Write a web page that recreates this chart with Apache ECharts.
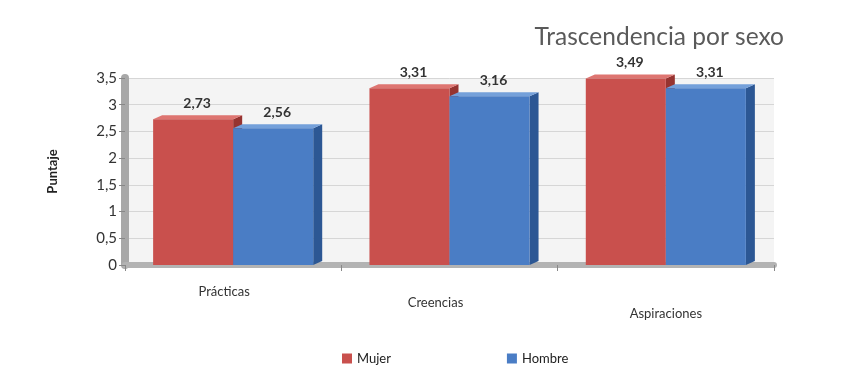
<!DOCTYPE html>
<html><head><meta charset="utf-8">
<script src="https://cdn.jsdelivr.net/npm/echarts@6/dist/echarts.min.js"></script>
<style>html,body{margin:0;padding:0;background:#fff}#c{width:854px;height:390px}</style>
</head><body><div id="c"></div>
<script>
const categories = ['Prácticas', 'Creencias', 'Aspiraciones'];
const mujer = [2.73, 3.31, 3.49];
const hombre = [2.56, 3.16, 3.31];
const yTicks = [0, 0.5, 1, 1.5, 2, 2.5, 3, 3.5];

const palette = {
  Mujer: {front: '#C9504D', top: '#DE7571', side: '#963330'},
  Hombre: {front: '#4A7DC5', top: '#74A0DA', side: '#2C5794'}
};
const fmt = v => String(v).replace('.', ',');

function make3D(name, values, slot) {
  return {
    name: name,
    type: 'custom',
    itemStyle: {color: palette[name].front},
    data: values.map((v, i) => [i, v]),
    encode: {x: 0, y: 1},
    z: slot + 2,
    renderItem: function (params, api) {
      const idx = api.value(0), val = api.value(1);
      const base = api.coord([idx, 0]);
      const top = api.coord([idx, val]);
      const catW = api.size([1, 0])[0];
      const w = catW * 0.37;
      const x0 = base[0] - w + slot * w;
      const x1 = x0 + w;
      const dx = 9, dy = -4;
      const c = palette[name];
      return {
        type: 'group',
        children: [
          {type: 'polygon', shape: {points: [[x1, top[1]], [x1 + dx, top[1] + dy], [x1 + dx, base[1] + dy], [x1, base[1]]]}, style: {fill: c.side}},
          {type: 'polygon', shape: {points: [[x0, top[1]], [x0 + dx, top[1] + dy], [x1 + dx, top[1] + dy], [x1, top[1]]]}, style: {fill: c.top}},
          {type: 'rect', shape: {x: x0, y: top[1], width: w, height: base[1] - top[1]}, style: {fill: c.front}},
          {type: 'text', style: {text: fmt(val), x: (x0 + x1) / 2 + 4, y: top[1] - 9, align: 'center', verticalAlign: 'bottom', font: 'bold 14px Lato, "Open Sans", sans-serif', fill: '#333'}}
        ]
      };
    }
  };
}

const chart = echarts.init(document.getElementById('c'));
chart.setOption({
  animation: false,
  title: {
    text: 'Trascendencia por sexo', right: 65, top: 20,
    textStyle: {fontFamily: 'Lato', fontWeight: 'normal', fontSize: 24.5, color: '#5a5a5a'}
  },
  legend: {
    data: [{name: 'Mujer', icon: 'rect'}, {name: 'Hombre', icon: 'rect'}],
    left: 337, top: 347, itemWidth: 10, itemHeight: 10, itemGap: 116,
    textStyle: {fontFamily: 'Lato', fontSize: 13, color: '#222'}
  },
  grid: {
    left: 125, right: 80, top: 78, bottom: 125, show: true,
    backgroundColor: '#f4f4f4', borderWidth: 0
  },
  xAxis: {
    type: 'category',
    data: [
      {value: categories[0], textStyle: {padding: [0, 18, 0, 0]}},
      {value: categories[1], textStyle: {padding: [11, 28, 0, 0]}},
      {value: categories[2], textStyle: {padding: [22, 0, 0, 0]}}
    ],
    axisLine: {lineStyle: {color: '#b3b3b3', width: 6}},
    axisTick: {show: true, inside: false, length: 6, lineStyle: {color: '#888'}},
    axisLabel: {margin: 20, fontFamily: 'Lato', fontSize: 13, color: '#333'}
  },
  yAxis: {
    type: 'value', min: 0, max: 3.5, interval: 0.5,
    name: 'Puntaje', nameLocation: 'middle', nameGap: 66, nameRotate: 90,
    nameTextStyle: {fontFamily: 'Lato', fontSize: 13, fontWeight: 'bold', color: '#222'},
    axisLine: {show: true, lineStyle: {color: '#a8a8a8', width: 8}},
    axisTick: {show: true, length: 6, lineStyle: {color: '#888'}},
    axisLabel: {margin: 8, fontFamily: 'Lato', fontSize: 15, color: '#333',
      formatter: v => fmt(yTicks.find(t => Math.abs(t - v) < 1e-9) ?? v)},
    splitLine: {lineStyle: {color: '#d6d6d6'}}
  },
  series: [make3D('Mujer', mujer, 0), make3D('Hombre', hombre, 1)]
});
</script></body></html>
